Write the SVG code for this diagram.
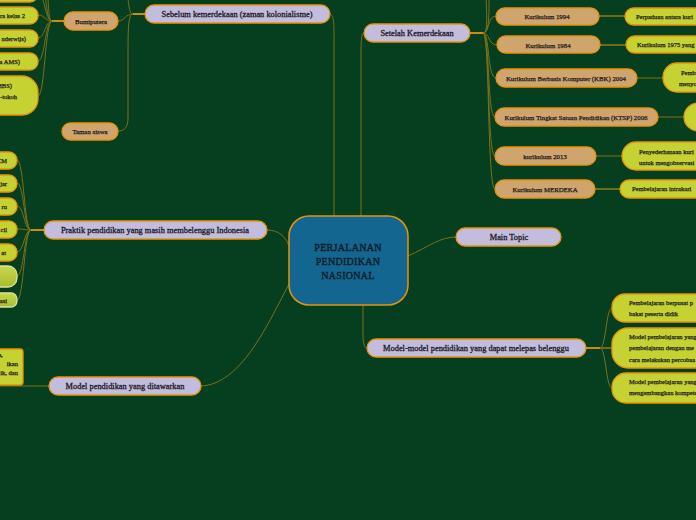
<svg xmlns="http://www.w3.org/2000/svg" width="696" height="520" viewBox="0 0 696 520">
<defs>
<linearGradient id="gl" x1="0" y1="0" x2="0" y2="1"><stop offset="0" stop-color="#c9d84a"/><stop offset="1" stop-color="#a8bb2e"/></linearGradient>
</defs>
<style>
.bg{fill:#063f1f}
.lav{fill:#c3bcdc;stroke:#e8930c;stroke-width:1.3}
.tan{fill:#d0a46d;stroke:#e8930c;stroke-width:1.3}
.yg{fill:#c5d232;stroke:#e8930c;stroke-width:1.3}
.ygl{fill:url(#gl);stroke:#d8e29a;stroke-width:1.3}
.ctr{fill:#13668f;stroke:#e8930c;stroke-width:1.5}
.c{fill:none;stroke:#7d701a;stroke-width:1}
.c2{fill:none;stroke:#6e6a1c;stroke-width:2}
.s{fill:none;stroke:#e8930c;stroke-width:1.8}
text{font-family:"Liberation Serif","DejaVu Serif",serif;fill:#1b1b25;stroke:#1b1b25;stroke-width:0.3}
.t8{font-size:8.4px;text-anchor:middle}
.t7{font-size:6.8px;text-anchor:middle;stroke-width:0.25}
.t6{font-size:6.5px;stroke-width:0.25}
.tc{font-size:10px;text-anchor:middle;fill:#0c1a28;stroke:#0c1a28;stroke-width:0.35;letter-spacing:0.3px}
.e{text-anchor:end}
</style>
<rect class="bg" x="0" y="0" width="696" height="520"/>
<g id="connectors">
<path class="c" d="M330,14 C334,16 334,22 334,40 L334,216"/>
<path class="c" d="M361,216 L361,50 C361,38 362,33 364,33"/>
<path class="c" d="M408,256 C430,246 440,237 456,237"/>
<path class="c" d="M267,230 C280,230 286,238 289,246"/>
<path class="c" d="M201,386 C240,384 265,330 289,284"/>
<path class="c" d="M363,305 L363,335 C363,345 365,348 367,348"/>
<path class="s" d="M145,14 L133,14"/>
<path class="c" d="M133,14 C125,14 125,21 118,21"/>
<path class="c" d="M133,14 C128,14 128,30 128,60 L128,118 C128,128 124,131 118,131"/>
<path class="c" d="M133,14 C129,14 129,6 127,-10"/>
<path class="s" d="M64,21 L52,21"/>
<path class="c" d="M52,21 C45,21 45,-6 38,-6"/>
<path class="c" d="M52,21 C45,21 45,15 38,15"/>
<path class="c" d="M52,21 C45,21 45,38 38,38"/>
<path class="c" d="M52,21 C45,21 45,61 38,61"/>
<path class="c" d="M52,21 C45,21 45,96 38,96"/>
<path class="c" d="M52,21 C47,21 47,4 44,-10"/>
<path class="c" d="M52,21 C48,21 49,2 47,-10"/>
<path class="s" d="M44,230 L31,230"/>
<path class="c" d="M31,230 C24,230 24,160 17,160"/>
<path class="c" d="M31,230 C24,230 24,183 17,183"/>
<path class="c" d="M31,230 C24,230 24,206 17,206"/>
<path class="c" d="M31,230 C24,230 24,229 17,229"/>
<path class="c" d="M31,230 C24,230 24,252 17,252"/>
<path class="c" d="M31,230 C24,230 24,276 17,276"/>
<path class="c" d="M31,230 C24,230 24,300 17,300"/>
<path class="c" d="M49,386 L0,386"/>
<path class="s" d="M470,33 L483,33"/>
<path class="c" d="M483,33 C490,33 487,16 496,16"/>
<path class="c" d="M483,33 C490,33 488,45 497,45"/>
<path class="c" d="M483,33 C490,33 487,78 496,78"/>
<path class="c" d="M483,33 C490,33 487,117 495,117"/>
<path class="c" d="M483,33 C490,33 487,156 495,156"/>
<path class="c" d="M483,33 C490,33 487,189 495,189"/>
<path class="c" d="M483,33 C489,33 486,10 486,-10"/>
<path class="c" d="M483,33 C490,33 489,10 489,-10"/>
<path class="c2" d="M599,16 L625,16"/>
<path class="c2" d="M600,45 L626,45"/>
<path class="c" d="M637,78 L663,78"/>
<path class="c" d="M658,117 L684,117"/>
<path class="c" d="M596,156 L622,156"/>
<path class="c2" d="M595,189 L620,189"/>
<path class="s" d="M586,348 L600,348"/>
<path class="c" d="M600,348 C606,348 606,308 612,308"/>
<path class="c2" d="M600,348 L612,348"/>
<path class="c" d="M600,348 C606,348 606,388 612,388"/>
</g>
<g id="center"><rect class="ctr" x="289" y="216" width="119" height="89" rx="20"/>
<text class="tc" x="348" y="251">PERJALANAN</text><text class="tc" x="348" y="265">PENDIDIKAN</text><text class="tc" x="348" y="279">NASIONAL</text></g>
<g id="main-topic"><rect class="lav" x="456" y="228" width="105" height="18" rx="9"/><text class="t8" x="509" y="240">Main Topic</text></g>
<g id="sebelum"><rect class="lav" x="145" y="5" width="185" height="18" rx="9"/><text class="t8" x="237" y="17">Sebelum kemerdekaan (zaman kolonialisme)</text></g>
<g id="setelah"><rect class="lav" x="364" y="24" width="106" height="18" rx="9"/><text class="t8" x="417" y="36">Setelah Kemerdekaan</text></g>
<g id="praktik"><rect class="lav" x="44" y="221" width="223" height="18" rx="9"/><text class="t8" x="155" y="233">Praktik pendidikan yang masih membelenggu Indonesia</text></g>
<g id="model-tawar"><rect class="lav" x="49" y="377" width="152" height="18" rx="9"/><text class="t8" x="125" y="389">Model pendidikan yang ditawarkan</text></g>
<g id="model-lepas"><rect class="lav" x="367" y="339" width="219" height="18" rx="9"/><text class="t8" x="476" y="351">Model-model pendidikan yang dapat melepas belenggu</text></g>
<g id="bumiputera"><rect class="tan" x="64" y="12" width="54" height="18" rx="9"/><text class="t7" x="91" y="23.5">Bumiputera</text></g>
<g id="taman-siswa"><rect class="tan" x="62" y="123" width="56" height="17" rx="8.5"/><text class="t7" x="90" y="134">Taman siswa</text></g>
<g id="bp-1"><rect class="yg" x="-40" y="-15" width="78" height="17" rx="8"/></g>
<g id="bp-2"><rect class="yg" x="-40" y="7" width="78" height="17" rx="8"/><text class="t6 e" x="25" y="18">ra kelas 2</text></g>
<g id="bp-3"><rect class="yg" x="-40" y="30" width="78" height="17" rx="8"/><text class="t6 e" x="26" y="41">nderwijs)</text></g>
<g id="bp-4"><rect class="yg" x="-40" y="53" width="78" height="17" rx="8"/><text class="t6 e" x="20" y="64">a AMS)</text></g>
<g id="bp-5"><rect class="yg" x="-40" y="76" width="78" height="39" rx="16"/><text class="t6 e" x="12" y="88">(HBS)</text><text class="t6 e" x="17" y="99">-tokoh</text></g>
<g id="pk-1"><rect class="yg" x="-40" y="152" width="57" height="17" rx="8"/><text class="t6 e" x="7" y="162.5">CM</text></g>
<g id="pk-2"><rect class="yg" x="-40" y="175" width="57" height="17" rx="8"/><text class="t6 e" x="7" y="185.5">jar</text></g>
<g id="pk-3"><rect class="yg" x="-40" y="198" width="57" height="17" rx="8"/><text class="t6 e" x="7" y="208.5">ru</text></g>
<g id="pk-4"><rect class="yg" x="-40" y="221" width="57" height="17" rx="8"/><text class="t6 e" x="7" y="231.5">cil</text></g>
<g id="pk-5"><rect class="yg" x="-40" y="244" width="57" height="17" rx="8"/><text class="t6 e" x="6" y="254.5">at</text></g>
<g id="pk-6"><rect class="ygl" x="-40" y="266" width="57" height="21" rx="9"/></g>
<g id="pk-7"><rect class="ygl" x="-40" y="293" width="57" height="14" rx="6"/><text class="t6 e" x="7" y="302.5">asi</text></g>
<g id="mt-1"><rect class="yg" x="-40" y="349" width="63" height="36" rx="3"/><text class="t6 e" x="3" y="357">a,</text><text class="t6 e" x="18" y="366">ikan</text><text class="t6 e" x="18" y="374.5">ik, dan</text></g>
<g id="k1994"><rect class="tan" x="496" y="8" width="103" height="17" rx="8.5"/><text class="t7" x="547" y="19">Kurikulum 1994</text></g>
<g id="k1984"><rect class="tan" x="497" y="36" width="103" height="17" rx="8.5"/><text class="t7" x="548" y="47.5">Kurikulum 1984</text></g>
<g id="kbk"><rect class="tan" x="496" y="69" width="141" height="18" rx="9"/><text class="t7" x="566" y="80.5">Kurikulum Berbasis Komputer (KBK) 2004</text></g>
<g id="ktsp"><rect class="tan" x="495" y="108" width="163" height="18" rx="9"/><text class="t7" x="576" y="119.5">Kurikulum Tingkat Satuan Pendidikan (KTSP) 2006</text></g>
<g id="k2013"><rect class="tan" x="495" y="147" width="101" height="18" rx="9"/><text class="t7" x="545" y="158.5">kurikulum 2013</text></g>
<g id="merdeka"><rect class="tan" x="495" y="180" width="100" height="18" rx="9"/><text class="t7" x="545" y="191.5">Kurikulum MERDEKA</text></g>
<g id="r-1994"><rect class="yg" x="625" y="8" width="100" height="17" rx="8.5"/><text class="t6" x="636" y="18.5">Perpaduan antara kuri</text></g>
<g id="r-1984"><rect class="yg" x="626" y="36" width="100" height="17" rx="8.5"/><text class="t6" x="637" y="47">Kurikulum 1975 yang d</text></g>
<g id="r-kbk"><rect class="yg" x="663" y="63" width="60" height="29" rx="14"/><text class="t6" x="681" y="75">Pemb</text><text class="t6" x="679" y="86">menyo</text></g>
<g id="r-ktsp"><rect class="yg" x="684" y="103" width="40" height="28" rx="14"/></g>
<g id="r-2013"><rect class="yg" x="622" y="142" width="100" height="28" rx="14"/><text class="t6" x="639" y="154">Penyederhanaan kuri</text><text class="t6" x="639" y="165">untuk mengobservasi</text></g>
<g id="r-merdeka"><rect class="yg" x="620" y="180" width="100" height="18" rx="9"/><text class="t6" x="632" y="191">Pembelajaran intrakuri</text></g>
<g id="ml-1"><rect class="yg" x="612" y="294" width="110" height="28" rx="13"/><text class="t6" x="629" y="305">Pembelajaran berpusat p</text><text class="t6" x="629" y="315.5">bakat peserta didik</text></g>
<g id="ml-2"><rect class="yg" x="612" y="328" width="110" height="40" rx="16"/><text class="t6" x="629" y="339">Model pembelajaran yang</text><text class="t6" x="629" y="350">pembelajaran dengan me</text><text class="t6" x="629" y="361.5">cara melakukan percobaa</text></g>
<g id="ml-3"><rect class="yg" x="612" y="373" width="110" height="30" rx="14"/><text class="t6" x="629" y="384">Model pembelajaran yang</text><text class="t6" x="629" y="395">mengembangkan kompete</text></g>
</svg>
